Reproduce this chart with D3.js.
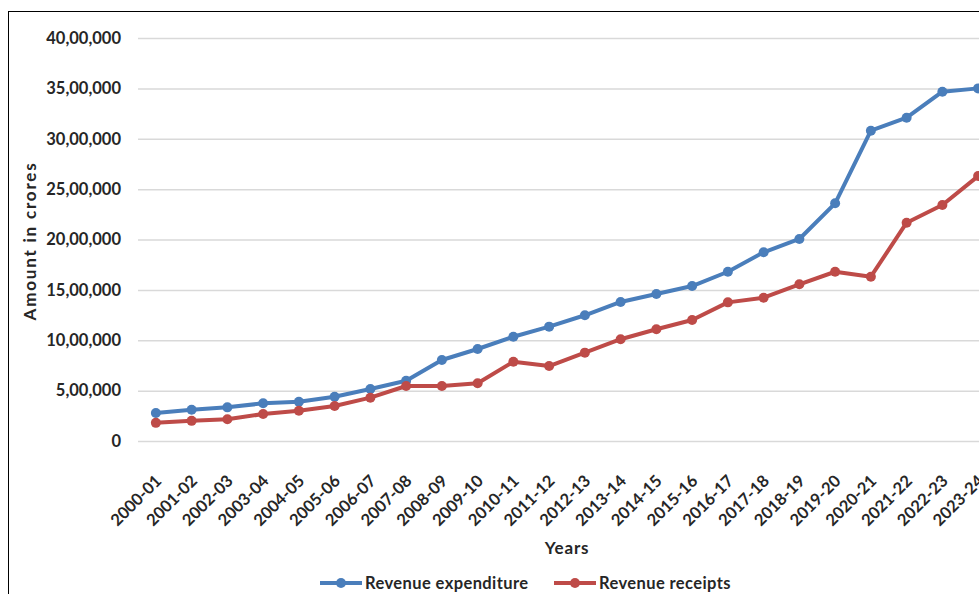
<!DOCTYPE html>
<html>
<head>
<meta charset="utf-8">
<script src="https://cdn.jsdelivr.net/npm/d3@7"></script>
<style>
  html, body { margin: 0; padding: 0; background: #fff; }
  svg { display: block; font-family: Lato, "Open Sans", sans-serif; }
</style>
</head>
<body>
<svg id="chart" width="979" height="594"></svg>
<script>
// Financial years on the category axis
const years = ["2000-01","2001-02","2002-03","2003-04","2004-05","2005-06","2006-07","2007-08",
  "2008-09","2009-10","2010-11","2011-12","2012-13","2013-14","2014-15","2015-16",
  "2016-17","2017-18","2018-19","2019-20","2020-21","2021-22","2022-23","2023-24"];

// Amounts in crores
const revenueExpenditure = [278000, 310000, 334000, 374000, 390000, 440000, 516000, 598000,
  804000, 913000, 1035000, 1135000, 1248000, 1380000, 1459000, 1538000,
  1680000, 1873000, 2005000, 2359000, 3080000, 3209000, 3467000, 3500000];
const revenueReceipts = [180000, 200000, 215000, 268000, 300000, 347000, 430000, 546000,
  546000, 573000, 787000, 744000, 877000, 1010000, 1109000, 1201000,
  1376000, 1422000, 1555000, 1680000, 1631000, 2167000, 2342000, 2630000];

const yTicks = [0, 500000, 1000000, 1500000, 2000000, 2500000, 3000000, 3500000, 4000000];
const seriesNames = ["Revenue expenditure", "Revenue receipts"];
const seriesColors = ["#4a7ebb", "#be4b48"];

const svg = d3.select("#chart");

// Chart frame
svg.append("rect")
  .attr("x", 8.5).attr("y", 11.5)
  .attr("width", 1100).attr("height", 700)
  .attr("fill", "none").attr("stroke", "#000").attr("stroke-width", 1);

const x = d3.scalePoint().domain(years).range([138, 996]).padding(0.5);
const y = d3.scaleLinear().domain([0, 4000000]).range([441, 38]);

// Indian digit grouping: 40,00,000
function indianFormat(v) {
  if (v === 0) return "0";
  const s = String(v);
  const last3 = s.slice(-3);
  let rest = s.slice(0, -3);
  rest = rest.replace(/\B(?=(\d{2})+(?!\d))/g, ",");
  return rest + "," + last3;
}

// Gridlines and y labels
const yAxis = d3.axisLeft(y).tickValues(yTicks).tickFormat(indianFormat)
  .tickSize(-(1000 - 138)).tickPadding(17);
const gy = svg.append("g").attr("transform", "translate(138,0)").call(yAxis);
gy.select(".domain").remove();
gy.selectAll(".tick line").attr("stroke", "#d9d9d9").attr("stroke-width", 1.5);
gy.selectAll(".tick text")
  .attr("fill", "#262626").attr("font-size", 16.5).attr("font-weight", "bold")
  .attr("font-family", "Lato, sans-serif");

// Category labels, rotated
const xAxis = d3.axisBottom(x).tickSize(0).tickPadding(0);
const gx = svg.append("g").attr("transform", "translate(0,441)").call(xAxis);
gx.select(".domain").remove();
gx.selectAll(".tick text")
  .attr("fill", "#262626").attr("font-size", 16.5).attr("font-weight", "bold")
  .attr("font-family", "Lato, sans-serif")
  .attr("text-anchor", "end")
  .attr("y", null)
  .attr("transform", "translate(2,37) rotate(-45)")
  .attr("dy", "0.35em");

// Axis titles
svg.append("text")
  .attr("transform", "translate(36,241) rotate(-90)")
  .attr("text-anchor", "middle")
  .attr("font-size", 17).attr("font-weight", "bold").attr("fill", "#262626")
  .attr("letter-spacing", 1.8)
  .text("Amount in crores");
svg.append("text")
  .attr("x", 567).attr("y", 554)
  .attr("text-anchor", "middle")
  .attr("font-size", 17).attr("font-weight", "bold").attr("fill", "#262626")
  .attr("letter-spacing", 0.8)
  .text("Years");

// Series lines with markers
const allSeries = [revenueExpenditure, revenueReceipts];
const line = d3.line().x((d, i) => x(years[i])).y(d => y(d));
allSeries.forEach((vals, si) => {
  const g = svg.append("g");
  g.append("path").datum(vals)
    .attr("d", line).attr("fill", "none")
    .attr("stroke", seriesColors[si]).attr("stroke-width", 4)
    .attr("stroke-linejoin", "round");
  g.selectAll("circle").data(vals).join("circle")
    .attr("cx", (d, i) => x(years[i])).attr("cy", d => y(d))
    .attr("r", 5).attr("fill", seriesColors[si]);
});

// Legend
const legendX = [320, 554];
seriesNames.forEach((name, i) => {
  const g = svg.append("g").attr("transform", `translate(${legendX[i]},583)`);
  g.append("line").attr("x1", 0).attr("x2", 42).attr("y1", 0).attr("y2", 0)
    .attr("stroke", seriesColors[i]).attr("stroke-width", 4);
  g.append("circle").attr("cx", 21).attr("cy", 0).attr("r", 5).attr("fill", seriesColors[i]);
  g.append("text").attr("x", 45).attr("y", 0).attr("dy", "0.35em")
    .attr("font-size", 16.5).attr("font-weight", "bold").attr("fill", "#262626")
    .attr("letter-spacing", 0.4)
    .text(name);
});
</script>
</body>
</html>
